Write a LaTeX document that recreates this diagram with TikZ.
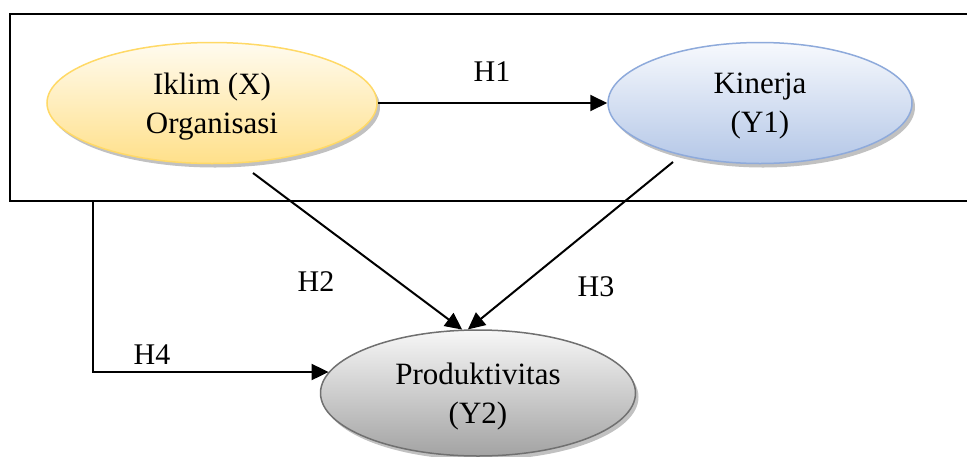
\documentclass[tikz,border=0pt]{standalone}
\usepackage{fontspec}
\setmainfont{Liberation Serif}
\usetikzlibrary{positioning,arrows.meta,shapes,shadows,calc}
\definecolor{yelline}{HTML}{FFD966}
\definecolor{yeltop}{HTML}{FFFBEF}
\definecolor{yelbot}{HTML}{FFE08A}
\definecolor{bluline}{HTML}{8EAADB}
\definecolor{blutop}{HTML}{F7F9FD}
\definecolor{blubot}{HTML}{B4C7E7}
\definecolor{greline}{HTML}{707070}
\definecolor{gretop}{HTML}{F7F7F7}
\definecolor{grebot}{HTML}{A3A3A3}
\tikzset{
  latent/.style={ellipse, line width=1.5pt, inner sep=0pt, align=center,
    font=\fontsize{31}{39}\selectfont, text depth=-5pt,
    drop shadow={shadow xshift=3pt, shadow yshift=-4pt, fill=black!35, opacity=.7}},
  hypo/.style={line width=2pt, -{Triangle[length=17pt,width=16pt]}},
  hlabel/.style={font=\fontsize{30}{34}\selectfont}
}

\begin{document}
\begin{tikzpicture}[x=1pt, y=-1pt]
    \useasboundingbox (0,0) rectangle (967,456);
    % frame round X and Y1
    \draw[line width=2pt] (980,14) -- (10,14) -- (10,201) -- (980,201);
    %
    \node[latent, draw=yelline, top color=yeltop, bottom color=yelbot,
      minimum width=330pt, minimum height=121pt] (iklim) at (212,103) {Iklim (X)\\Organisasi};
    \node[latent, draw=bluline, top color=blutop, bottom color=blubot,
      minimum width=304pt, minimum height=121pt] (kinerja) at (760,103) {Kinerja\\(Y1)};
    \node[latent, draw=greline, top color=gretop, bottom color=grebot,
      minimum width=315pt, minimum height=126pt] (produk) at (478,393) {Produktivitas\\(Y2)};
    %
    \node[coordinate] (h2a) at (253,173) {};
    \node[coordinate] (h3a) at (673,162) {};
    \node[coordinate] (h4a) at (93,201) {};
    \draw[hypo] (iklim) -- (kinerja);
    \draw[hypo] (h2a) -- (produk.104);
    \draw[hypo] (h3a) -- (produk.99);
    \draw[hypo] (h4a) |- (produk.172);
    %
    \node[hlabel] (lh1) at (492,72) {H1};
    \node[hlabel] (lh2) at (316,282) {H2};
    \node[hlabel] (lh3) at (596,287) {H3};
    \node[hlabel] (lh4) at (152,355) {H4};
\end{tikzpicture}
\end{document}
